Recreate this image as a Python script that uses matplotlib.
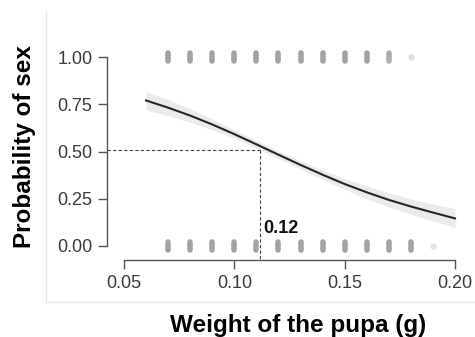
import matplotlib
matplotlib.use('Agg')
import matplotlib.pyplot as plt
from matplotlib.lines import Line2D

# fitted curve
weight = [0.06, 0.07, 0.08, 0.09, 0.10, 0.11, 0.12, 0.13, 0.14, 0.15, 0.16, 0.17, 0.18, 0.19, 0.20]
prob = [0.770, 0.732, 0.690, 0.643, 0.592, 0.538, 0.483, 0.429, 0.377, 0.328, 0.284, 0.244, 0.209, 0.177, 0.146]
ci_low = [0.720, 0.690, 0.655, 0.615, 0.570, 0.518, 0.463, 0.407, 0.352, 0.300, 0.250, 0.206, 0.168, 0.132, 0.098]
ci_high = [0.818, 0.775, 0.725, 0.672, 0.615, 0.558, 0.503, 0.451, 0.402, 0.357, 0.318, 0.282, 0.250, 0.222, 0.198]

# observed pupae (rug marks at 1 and 0)
top_x = [0.07, 0.08, 0.09, 0.10, 0.11, 0.12, 0.13, 0.14, 0.15, 0.16, 0.17, 0.18]
top_alpha = [1, 1, 1, 1, 1, 1, 1, 1, 1, 1, 0.9, 0.35]
bottom_x = [0.07, 0.08, 0.09, 0.10, 0.11, 0.12, 0.13, 0.14, 0.15, 0.16, 0.17, 0.18, 0.19]
bottom_alpha = [1, 1, 1, 1, 1, 1, 1, 1, 1, 1, 1, 1, 0.3]

cut_x = 0.1115
cut_y = 0.51
cut_label = '0.12'

W, H = 475, 337
fig = plt.figure(figsize=(W / 100, H / 100), dpi=100)
ax = fig.add_axes([107 / W, (H - 260) / H, (460 - 107) / W, (260 - 45) / H])

ax.set_xlim(0.05 - 17 / 2210, 0.2 + 5 / 2210)
ax.set_ylim(-14 / 189, 1 + 12 / 189)

# confidence band + fit
ax.fill_between(weight, ci_low, ci_high, color='#ebebeb', lw=0, zorder=1)
ax.plot(weight, prob, color='#262626', lw=1.5, zorder=3)

# rug marks
def rug(xs, alphas, y0):
    for x, a in zip(xs, alphas):
        if a > 0.5:
            ax.plot([x, x], [y0 - 0.02, y0 + 0.02], color='#a3a3a3', alpha=a, lw=4,
                    solid_capstyle='round', zorder=2)
        else:
            ax.scatter([x], [y0], s=22, color='#a3a3a3', alpha=a, lw=0, zorder=2)

rug(top_x, top_alpha, 1.0)
rug(bottom_x, bottom_alpha, 0.0)

# cutoff guide lines
ax.plot([ax.get_xlim()[0], cut_x], [cut_y, cut_y], color='#444444', lw=0.8,
        ls=(0, (3, 2)), zorder=2, clip_on=False)
ax.plot([cut_x, cut_x], [cut_y, ax.get_ylim()[0]], color='#444444', lw=0.8,
        ls=(0, (3, 2)), zorder=2, clip_on=False)
ax.text(cut_x + 0.0015, 0.09, cut_label, fontsize=13, fontweight='bold',
        family='Liberation Sans', color='#111111', ha='left', va='center')

# R-style axes
for s in ['top', 'right']:
    ax.spines[s].set_visible(False)
ax.spines['left'].set_bounds(0, 1)
ax.spines['bottom'].set_bounds(0.05, 0.2)
for s in ['left', 'bottom']:
    ax.spines[s].set_color('#555555')
    ax.spines[s].set_linewidth(1.0)
ax.set_xticks([0.05, 0.10, 0.15, 0.20])
ax.set_xticklabels(['0.05', '0.10', '0.15', '0.20'])
ax.set_yticks([0, 0.25, 0.5, 0.75, 1.0])
ax.set_yticklabels(['0.00', '0.25', '0.50', '0.75', '1.00'])
ax.tick_params(length=6.5, width=1.0, color='#555555', labelcolor='#3a3a3a',
               labelsize=13, pad=4)
for lab in ax.get_xticklabels() + ax.get_yticklabels():
    lab.set_family('Liberation Sans')

fig.text(298 / W, 1 - 332 / H, 'Weight of the pupa (g)', fontsize=17.5,
         fontweight='bold', family='Liberation Sans', ha='center', va='baseline')
fig.text(25 / W, 1 - 147 / H, 'Probability of sex', fontsize=17.5,
         fontweight='bold', family='Liberation Sans', ha='center', va='center', rotation=90)

# faint panel border
fig.add_artist(Line2D([46 / W, 46 / W], [1 - 11 / H, 1 - 302 / H], color='#e6e6e6', lw=1))
fig.add_artist(Line2D([46 / W, 1], [1 - 302 / H, 1 - 302 / H], color='#e6e6e6', lw=1))

fig.savefig('out.png', dpi=100)
